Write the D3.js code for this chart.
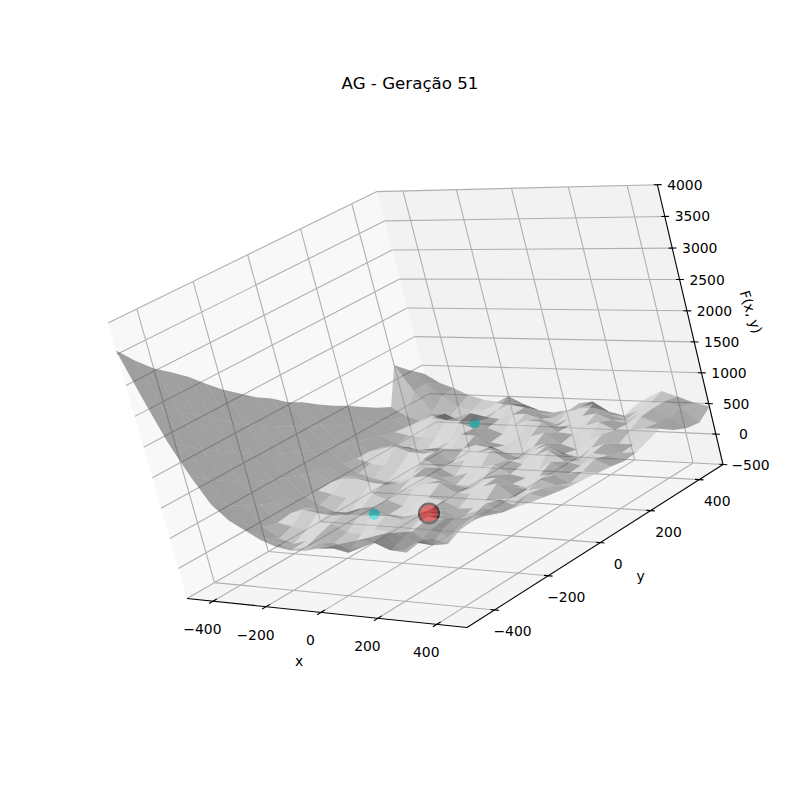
<!DOCTYPE html>
<html>
<head>
<meta charset="utf-8">
<script src="https://cdn.jsdelivr.net/npm/d3@7"></script>
<style>
html, body { margin: 0; background: #fff; }
text { font-family: "DejaVu Sans", sans-serif; fill: #000; }
</style>
</head>
<body>
<script>
// Chart values
var titleText = "AG - Geração 51";
var xTicks = [-400, -200, 0, 200, 400];
var yTicks = [-400, -200, 0, 200, 400];
var zTicks = [-500, 0, 500, 1000, 1500, 2000, 2500, 3000, 3500, 4000];

// mesh positions
var meshX = [-500, -450, -400, -350, -300, -250, -200, -150, -100, -50, 0, 50, 100, 150, 200, 250, 300, 350, 400, 450, 500];
var meshY = [-500, -450, -400, -350, -300, -250, -200, -150, -100, -50, 0, 50, 100, 150, 200, 250, 300, 350, 400, 450, 500];

// F(x, y): one row per meshY, one column per meshX
var meshZ = [
	[3560, 2800, 2100, 1560, 1120, 880, 740, 600, 510, 470, 480, 540, 590, 660, 720, 790, 860, 900, 930, 1100, 1150],
	[3280, 2570, 1920, 1400, 990, 690, 480, 420, 340, 390, 470, 410, 360, 460, 560, 460, 480, 610, 590, 860, 1040],
	[3040, 2350, 1740, 1240, 850, 520, 350, 280, 350, 460, 350, 250, 340, 430, 330, 290, 460, 550, 480, 780, 990],
	[2860, 2170, 1580, 1110, 740, 460, 420, 370, 510, 520, 390, 380, 470, 460, 380, 430, 540, 460, 570, 740, 930],
	[2670, 2000, 1440, 990, 640, 490, 560, 520, 560, 540, 530, 550, 580, 520, 490, 600, 570, 460, 660, 680, 760],
	[2440, 1830, 1300, 890, 580, 450, 440, 360, 420, 500, 450, 420, 400, 450, 520, 500, 420, 520, 570, 600, 700],
	[2220, 1660, 1170, 790, 510, 370, 280, 240, 350, 400, 300, 280, 330, 410, 420, 310, 350, 580, 460, 620, 640],
	[2040, 1520, 1060, 710, 470, 420, 370, 390, 470, 390, 300, 370, 470, 440, 330, 350, 490, 520, 430, 640, 600],
	[1860, 1380, 960, 640, 480, 550, 570, 520, 520, 430, 460, 560, 580, 440, 440, 570, 630, 430, 550, 600, 560],
	[1720, 1260, 870, 590, 450, 460, 430, 360, 390, 500, 540, 490, 420, 380, 550, 580, 460, 430, 600, 520, 530],
	[1540, 1130, 780, 530, 380, 310, 270, 290, 420, 540, 400, 290, 280, 400, 490, 360, 300, 520, 550, 430, 510],
	[1420, 1030, 710, 490, 430, 400, 370, 440, 550, 420, 290, 360, 460, 520, 380, 330, 470, 610, 440, 490, 480],
	[1260, 920, 640, 490, 550, 600, 520, 570, 560, 380, 440, 570, 630, 470, 420, 570, 670, 500, 450, 560, 460],
	[1120, 820, 570, 440, 470, 460, 370, 470, 470, 490, 560, 550, 450, 370, 530, 610, 500, 390, 520, 500, 420],
	[1000, 730, 500, 370, 310, 260, 290, 460, 590, 580, 390, 310, 320, 440, 520, 350, 300, 470, 550, 420, 440],
	[860, 630, 450, 400, 380, 370, 470, 660, 570, 350, 310, 430, 480, 550, 380, 300, 460, 570, 430, 430, 500],
	[730, 530, 420, 500, 590, 560, 620, 700, 460, 370, 520, 620, 600, 440, 420, 570, 640, 520, 520, 570, 570],
	[620, 470, 400, 500, 540, 430, 480, 520, 490, 570, 600, 520, 390, 440, 600, 650, 550, 500, 620, 530, 430],
	[1230, 780, 430, 300, 290, 300, 350, 510, 620, 570, 390, 310, 420, 620, 680, 500, 430, 550, 640, 510, 340],
	[1030, 800, 590, 410, 360, 380, 510, 630, 500, 350, 300, 400, 550, 590, 430, 370, 470, 600, 640, 550, 310],
	[850, 700, 610, 500, 430, 400, 350, 320, 280, 250, 300, 340, 360, 300, 220, 430, 570, 680, 600, 510, 450]
];

// population of this generation (best individual first)
var popX = [110, -52, -218];
var popY = [-170, -203, 371];
var popZ = [270, 290, 350];
var popColor = ["red", "cyan", "cyan"];

// Width and height
var width = 800;
var height = 800;

var svg = d3.select("body").append("svg")
	.attr("width", width)
	.attr("height", height)
	.style("display", "block");

// data -> unit cube
var xScale = d3.scaleLinear().domain([-500, 500]).range([0, 1]);
var yScale = d3.scaleLinear().domain([-500, 500]).range([0, 1]);
var zScale = d3.scaleLinear().domain([-500, 4000]).range([0, 1]);

// where the corners of the cube land on the page, the camera is solved from these
var cornerA = [187, 598.5];  // xmin ymin zmin
var cornerB = [467, 627.5];  // xmax ymin zmin
var cornerC = [723, 464.5];  // xmax ymax zmin
var cornerD = [444, 450];    // xmin ymax zmin
var cornerTopA = [108, 323]; // xmin ymin zmax
var cornerTopC = [658, 185]; // xmax ymax zmax
var cornerTopD = [377, 194]; // xmin ymax zmax

// floor: square to quad
var dx1 = cornerB[0] - cornerC[0], dx2 = cornerD[0] - cornerC[0];
var dy1 = cornerB[1] - cornerC[1], dy2 = cornerD[1] - cornerC[1];
var sx = cornerA[0] - cornerB[0] + cornerC[0] - cornerD[0];
var sy = cornerA[1] - cornerB[1] + cornerC[1] - cornerD[1];
var det = dx1 * dy2 - dx2 * dy1;
var g = (sx * dy2 - dx2 * sy) / det;
var h = (dx1 * sy - sx * dy1) / det;
var a = cornerB[0] - cornerA[0] + g * cornerB[0];
var b = cornerD[0] - cornerA[0] + h * cornerD[0];
var d = cornerB[1] - cornerA[1] + g * cornerB[1];
var e = cornerD[1] - cornerA[1] + h * cornerD[1];

// height term, least squares over the two top corners
var num = 0, den = 0;
[0, 1].forEach(function (i) {
	var fl = i === 0 ? [a, b] : [d, e];
	var q1 = cornerTopA[i] - cornerTopD[i];
	var p1 = cornerTopD[i] * (1 + h) - fl[1] - cornerTopA[i];
	var q2 = cornerTopA[i] - cornerTopC[i];
	var p2 = cornerTopC[i] * (1 + g + h) - fl[0] - fl[1] - cornerTopA[i];
	num += q1 * p1 + q2 * p2;
	den += q1 * q1 + q2 * q2;
});
var r = num / den;
var l = cornerTopA[0] * (1 + r) - cornerA[0];
var m = cornerTopA[1] * (1 + r) - cornerA[1];

function project(x, y, z) {
	var u = xScale(x), v = yScale(y), w = zScale(z);
	var t = g * u + h * v + r * w + 1;
	return [(a * u + b * v + l * w + cornerA[0]) / t, (d * u + e * v + m * w + cornerA[1]) / t];
}

// position along the line of sight, used to sort the faces
function depth(x, y, z) {
	return 1.69 * xScale(x) - 1.55 * yScale(y) + zScale(z);
}

function line3d(group, p, q, color, lw) {
	var s = project(p[0], p[1], p[2]), t = project(q[0], q[1], q[2]);
	group.append("line")
		.attr("x1", s[0]).attr("y1", s[1])
		.attr("x2", t[0]).attr("y2", t[1])
		.attr("stroke", color)
		.attr("stroke-width", lw);
}

function pane(color, pts) {
	svg.append("polygon")
		.attr("points", pts.map(function (p) { return project(p[0], p[1], p[2]).join(","); }).join(" "))
		.attr("fill", color);
}

// panes
pane("#f8f8f8", [[-500, -500, -500], [-500, 500, -500], [-500, 500, 4000], [-500, -500, 4000]]);
pane("#f2f2f2", [[-500, 500, -500], [500, 500, -500], [500, 500, 4000], [-500, 500, 4000]]);
pane("#f5f5f5", [[-500, -500, -500], [500, -500, -500], [500, 500, -500], [-500, 500, -500]]);

// grid
var gridColor = "#b0b0b0";
var grid = svg.append("g");
xTicks.forEach(function (t) {
	line3d(grid, [t, -500, -500], [t, 500, -500], gridColor, 1.1);
	line3d(grid, [t, 500, -500], [t, 500, 4000], gridColor, 1.1);
});
yTicks.forEach(function (t) {
	line3d(grid, [500, t, -500], [-500, t, -500], gridColor, 1.1);
	line3d(grid, [-500, t, -500], [-500, t, 4000], gridColor, 1.1);
});
zTicks.forEach(function (t) {
	line3d(grid, [-500, -500, t], [-500, 500, t], gridColor, 1.1);
	line3d(grid, [-500, 500, t], [500, 500, t], gridColor, 1.1);
});

// axes and ticks
var axes = svg.append("g");
line3d(axes, [-500, -500, -500], [500, -500, -500], "#000", 1.1);
line3d(axes, [500, -500, -500], [500, 500, -500], "#000", 1.1);
line3d(axes, [500, 500, -500], [500, 500, 4000], "#000", 1.1);

function label(txt, pos, dx, dy) {
	return svg.append("text")
		.attr("x", pos[0] + dx)
		.attr("y", pos[1] + dy)
		.attr("text-anchor", "middle")
		.attr("dominant-baseline", "central")
		.style("font-size", "13.9px")
		.text(txt);
}
function tickText(t) {
	return String(t).replace("-", "\u2212");
}

xTicks.forEach(function (t) {
	line3d(axes, [t, -514, -500], [t, -486, -500], "#000", 1.1);
	label(tickText(t), project(t, -500, -500), -10.5, 28);
});
yTicks.forEach(function (t) {
	line3d(axes, [486, t, -500], [514, t, -500], "#000", 1.1);
	label(tickText(t), project(500, t, -500), 18, 21.5);
});
zTicks.forEach(function (t) {
	line3d(axes, [488, 500, t], [514, 500, t], "#000", 1.1);
	label(tickText(t), project(500, 500, t), 27.5, 0);
});

label("x", [299, 661], 0, 0);
label("y", [640.5, 576], 0, 0);
label("F(x, y)", [0, 0], 0, 0).attr("transform", "translate(751,312) rotate(72)");

svg.append("text")
	.attr("x", 410)
	.attr("y", 83)
	.attr("text-anchor", "middle")
	.attr("dominant-baseline", "central")
	.style("font-size", "16.67px")
	.text(titleText);

// population, the surface is painted over it
popX.forEach(function (px, i) {
	var c = project(px, popY[i], popZ[i]);
	svg.append("circle")
		.attr("cx", c[0])
		.attr("cy", c[1])
		.attr("r", popColor[i] === "red" ? 10 : 5.5)
		.attr("fill", popColor[i])
		.attr("stroke", popColor[i] === "red" ? "#000" : "none")
		.attr("stroke-width", 2)
		.attr("opacity", 0.85);
});

// surface faces, sorted back to front and shaded from the light direction
var light = [-0.667, -0.667, 0.333];
var faces = [];
var row, col;
for (row = 0; row < meshY.length - 1; row++) {
	for (col = 0; col < meshX.length - 1; col++) {
		var c0 = [meshX[col], meshY[row], meshZ[row][col]];
		var c1 = [meshX[col + 1], meshY[row], meshZ[row][col + 1]];
		var c2 = [meshX[col + 1], meshY[row + 1], meshZ[row + 1][col + 1]];
		var c3 = [meshX[col], meshY[row + 1], meshZ[row + 1][col]];
		var p = [c2[0] - c0[0], c2[1] - c0[1], c2[2] - c0[2]];
		var q = [c3[0] - c1[0], c3[1] - c1[1], c3[2] - c1[2]];
		var n = [p[1] * q[2] - p[2] * q[1], p[2] * q[0] - p[0] * q[2], p[0] * q[1] - p[1] * q[0]];
		var len = Math.sqrt(n[0] * n[0] + n[1] * n[1] + n[2] * n[2]);
		var dot = (n[0] * light[0] + n[1] * light[1] + n[2] * light[2]) / len;
		faces.push({
			corners: [c0, c1, c2, c3],
			shade: 0.3 + 0.7 * (dot + 1) / 2,
			depth: d3.mean([c0, c1, c2, c3], function (k) { return depth(k[0], k[1], k[2]); })
		});
	}
}
faces.sort(function (s, t) { return s.depth - t.depth; });

svg.append("g").selectAll("polygon")
	.data(faces)
	.enter()
	.append("polygon")
	.attr("points", function (f) {
		return f.corners.map(function (k) { return project(k[0], k[1], k[2]).join(","); }).join(" ");
	})
	.attr("fill", function (f) {
		var v = Math.round(192 * f.shade);
		return "rgb(" + v + "," + v + "," + v + ")";
	})
	.attr("fill-opacity", 0.5);
</script>
</body>
</html>
